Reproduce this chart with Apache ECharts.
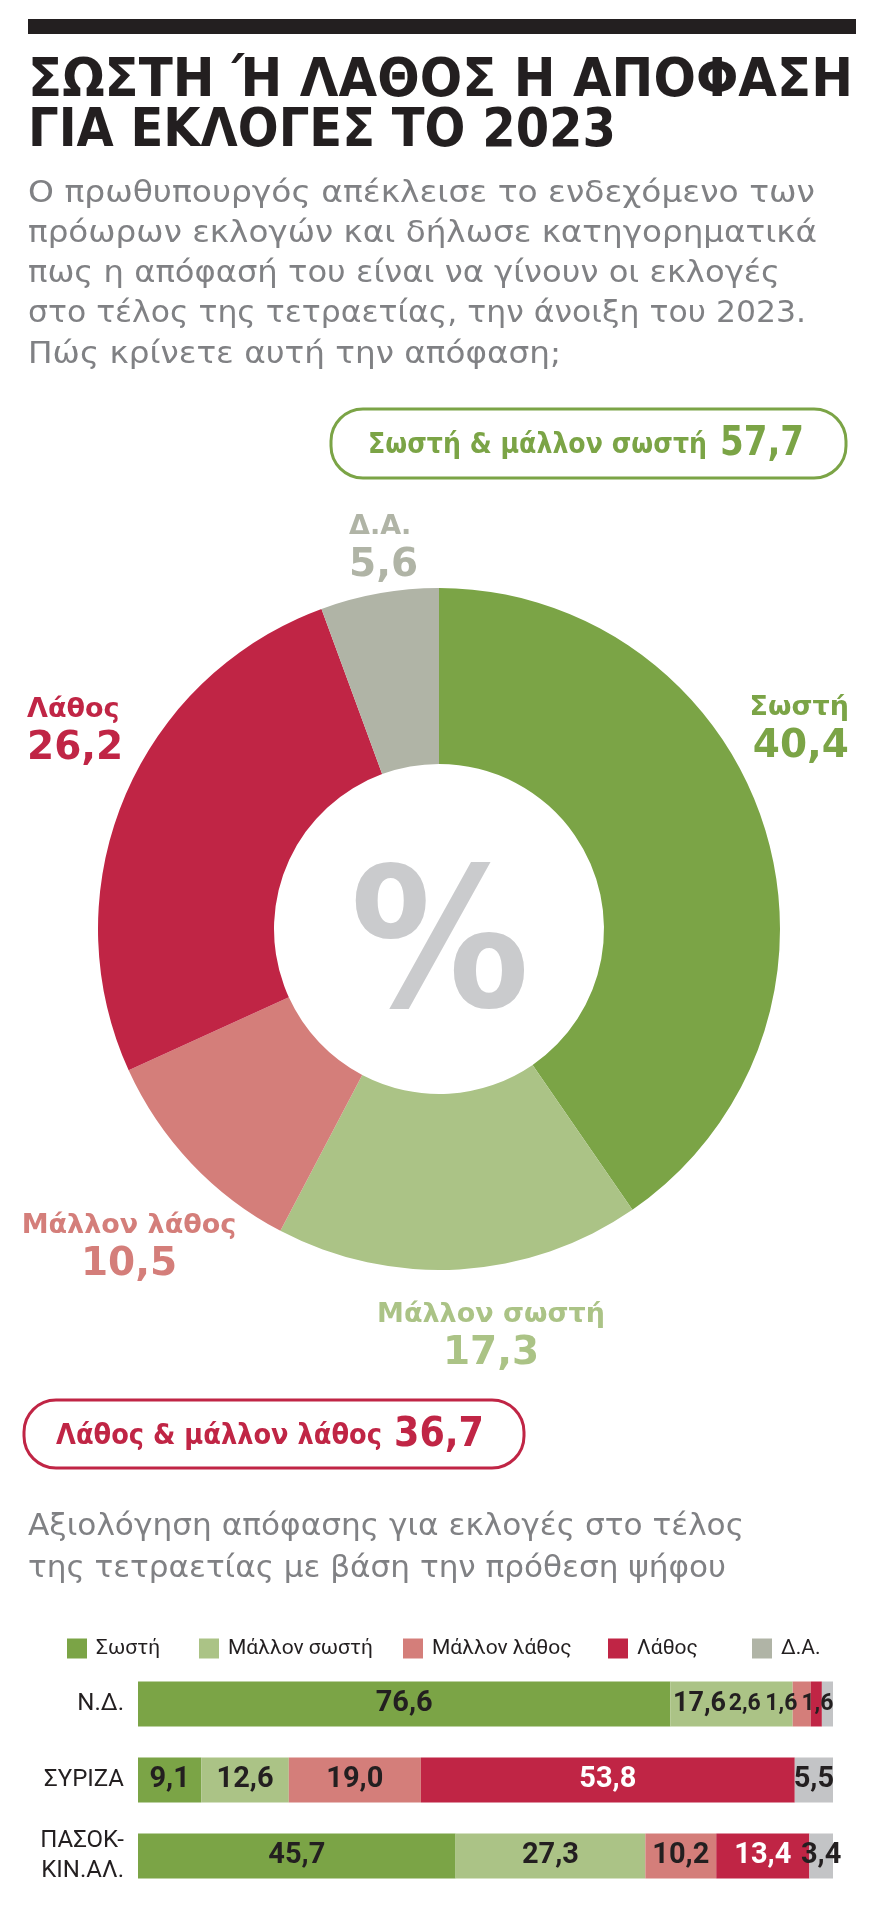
<!DOCTYPE html>
<html>
<head>
<meta charset="utf-8">
<script src="https://cdn.jsdelivr.net/npm/echarts@6/dist/echarts.min.js"></script>
<style>
  html, body { margin: 0; padding: 0; background: #fff; }
  #chart { width: 880px; height: 1912px; }
</style>
</head>
<body>
<div id="chart"></div>
<script>
const titleLines = ['ΣΩΣΤΗ Ή ΛΑΘΟΣ Η ΑΠΟΦΑΣΗ', 'ΓΙΑ ΕΚΛΟΓΕΣ ΤΟ 2023']
const introLines = [
  'Ο πρωθυπουργός απέκλεισε το ενδεχόμενο των',
  'πρόωρων εκλογών και δήλωσε κατηγορηματικά',
  'πως η απόφασή του είναι να γίνουν οι εκλογές',
  'στο τέλος της τετραετίας, την άνοιξη του 2023.',
  'Πώς κρίνετε αυτή την απόφαση;'
]
const answers = ['Σωστή', 'Μάλλον σωστή', 'Μάλλον λάθος', 'Λάθος', 'Δ.Α.']
const pieValues = [40.4, 17.3, 10.5, 26.2, 5.6]
const rightBox = ['Σωστή & μάλλον σωστή', '57,7']
const wrongBox = ['Λάθος & μάλλον λάθος', '36,7']
const barTitleLines = [
  'Αξιολόγηση απόφασης για εκλογές στο τέλος',
  'της τετραετίας με βάση την πρόθεση ψήφου'
]
const parties = ['Ν.Δ.', 'ΣΥΡΙΖΑ', 'ΠΑΣΟΚ-\nΚΙΝ.ΑΛ.']
const rightValues = [76.6, 9.1, 45.7]
const ratherRightValues = [17.6, 12.6, 27.3]
const ratherWrongValues = [2.6, 19.0, 10.2]
const wrongValues = [1.6, 53.8, 13.4]
const noAnswerValues = [1.6, 5.5, 3.4]

const colors = ['#7ba446', '#abc386', '#d47e7a', '#c02545', '#b0b4a6']
const barColors = ['#7ba446', '#abc386', '#d47e7a', '#c02545', '#c3c4c6']
const dark = '#231f20'
const grey = '#808184'

const fmt = v => Number(v).toFixed(1).replace('.', ',')

// text measuring, used to stretch/squeeze the free texts to the picture widths
const ctx = document.createElement('canvas').getContext('2d')
const textWidth = (text, font) => { ctx.font = font; return ctx.measureText(text).width }

const text = (str, x, y, font, fill, sx, align) => ({
  type: 'text', x: x, y: y, scaleX: sx || 1,
  style: {
    text: str, font: font, fill: fill,
    align: align || 'left', textAlign: align || 'left',
    verticalAlign: 'middle', textVerticalAlign: 'middle'
  }
})
const fitted = (str, x, y, font, fill, width) => text(str, x, y, font, fill, width / textWidth(str, font))

const titleFont = 'bold 53px "DejaVu Sans"'
const introFont = '30px "DejaVu Sans"'
const introWidths = [787, 789, 752, 778, 533]
const barTitleWidths = [716, 698]
const boxFont = 'bold 29px "DejaVu Sans"'
const boxValueFont = 'bold 40px "DejaVu Sans"'

const graphics = [
  { type: 'rect', shape: { x: 28, y: 19, width: 828, height: 15 }, style: { fill: dark } },
  fitted(titleLines[0], 28, 82, titleFont, dark, 825),
  fitted(titleLines[1], 28, 132, titleFont, dark, 588),
  ...introLines.map((l, i) => fitted(l, 28, 194 + i * 40.2, introFont, grey, introWidths[i])),
  { type: 'rect', shape: { x: 331, y: 409, width: 515, height: 69, r: 32 },
    style: { fill: '#fff', stroke: colors[0], lineWidth: 3 } },
  fitted(rightBox[0], 368, 445, boxFont, colors[0], 339),
  fitted(rightBox[1], 720, 445, boxValueFont, colors[0], 84),
  { type: 'rect', shape: { x: 24, y: 1400, width: 500, height: 68, r: 32 },
    style: { fill: '#fff', stroke: colors[3], lineWidth: 3 } },
  fitted(wrongBox[0], 56, 1436, boxFont, colors[3], 326),
  fitted(wrongBox[1], 394, 1436, boxValueFont, colors[3], 90),
  text('%', 440, 955, 'bold 195px "DejaVu Sans"', '#cacbcd', 0.92, 'center'),
  ...barTitleLines.map((l, i) => fitted(l, 28, 1527 + i * 42, introFont, grey, barTitleWidths[i]))
]

// where the pie labels sit (block top), as in the picture
const pieLabelPos = [
  { x: 849, y: 692, align: 'right' },
  { x: 491, y: 1299, align: 'center' },
  { x: 129, y: 1210, align: 'center' },
  { x: 27, y: 694, align: 'left' },
  { x: 349, y: 511, align: 'left' }
]

const pieSeries = {
  type: 'pie',
  center: [439, 929],
  radius: [165, 341],
  startAngle: 90,
  clockwise: true,
  avoidLabelOverlap: false,
  silent: true,
  data: answers.map((name, i) => ({ name: name, value: pieValues[i], itemStyle: { color: colors[i] } })),
  label: {
    show: true,
    position: 'outside',
    color: 'inherit',
    formatter: p => '{n|' + p.name + '}\n{v|' + fmt(p.value) + '}',
    rich: {
      n: { fontFamily: 'DejaVu Sans', fontWeight: 'bold', fontSize: 27, lineHeight: 32 },
      v: { fontFamily: 'DejaVu Sans', fontWeight: 'bold', fontSize: 39, lineHeight: 46 }
    }
  },
  labelLine: { show: false },
  labelLayout: p => {
    const pos = pieLabelPos[p.dataIndex]
    return { x: pos.x, y: pos.y, align: pos.align, verticalAlign: 'top' }
  }
}

// the thin N.Δ. pieces are too narrow for their numbers: spread the numbers out
const ndLabelShift = [0, -32, -57, -35, -10]
const ndLabelSize = [29, 27, 23, 23, 23]
const barValues = [rightValues, ratherRightValues, ratherWrongValues, wrongValues, noAnswerValues]

const barSeries = answers.map((name, i) => ({
  type: 'bar',
  name: name,
  stack: 'all',
  barWidth: 45,
  silent: true,
  itemStyle: { color: barColors[i] },
  label: {
    show: true,
    position: 'inside',
    color: i === 3 ? '#fff' : dark,
    fontFamily: 'Roboto',
    fontWeight: 'bold',
    fontSize: 29,
    formatter: p => fmt(p.value)
  },
  data: barValues[i].map((v, j) => (j === 0 && ndLabelShift[i])
    ? { value: v, label: { offset: [ndLabelShift[i], 0], color: dark, fontSize: ndLabelSize[i] } }
    : v)
}))

// one legend per answer, so each sits where it does in the picture
const legendLeft = [62, 194, 398, 603, 747]
const legends = answers.map((name, i) => ({
  left: legendLeft[i],
  top: 1633,
  icon: 'rect',
  itemWidth: 20,
  itemHeight: 20,
  selectedMode: false,
  textStyle: { fontFamily: 'Roboto', fontSize: 21, color: dark, padding: [0, 0, 0, 4] },
  data: [{ name: name, itemStyle: { color: colors[i] } }]
}))

const chart = echarts.init(document.getElementById('chart'))
chart.setOption({
  animation: false,
  graphic: { elements: graphics },
  legend: legends,
  grid: { left: 138, right: 47, top: 1666, height: 228 },
  xAxis: { type: 'value', min: 0, max: 100, show: false },
  yAxis: {
    type: 'category',
    data: parties,
    inverse: true,
    axisLine: { show: false },
    axisTick: { show: false },
    axisLabel: {
      margin: 14,
      color: dark,
      fontFamily: 'Roboto',
      fontSize: 24,
      lineHeight: 30
    }
  },
  series: [pieSeries, ...barSeries]
})
</script>
</body>
</html>
